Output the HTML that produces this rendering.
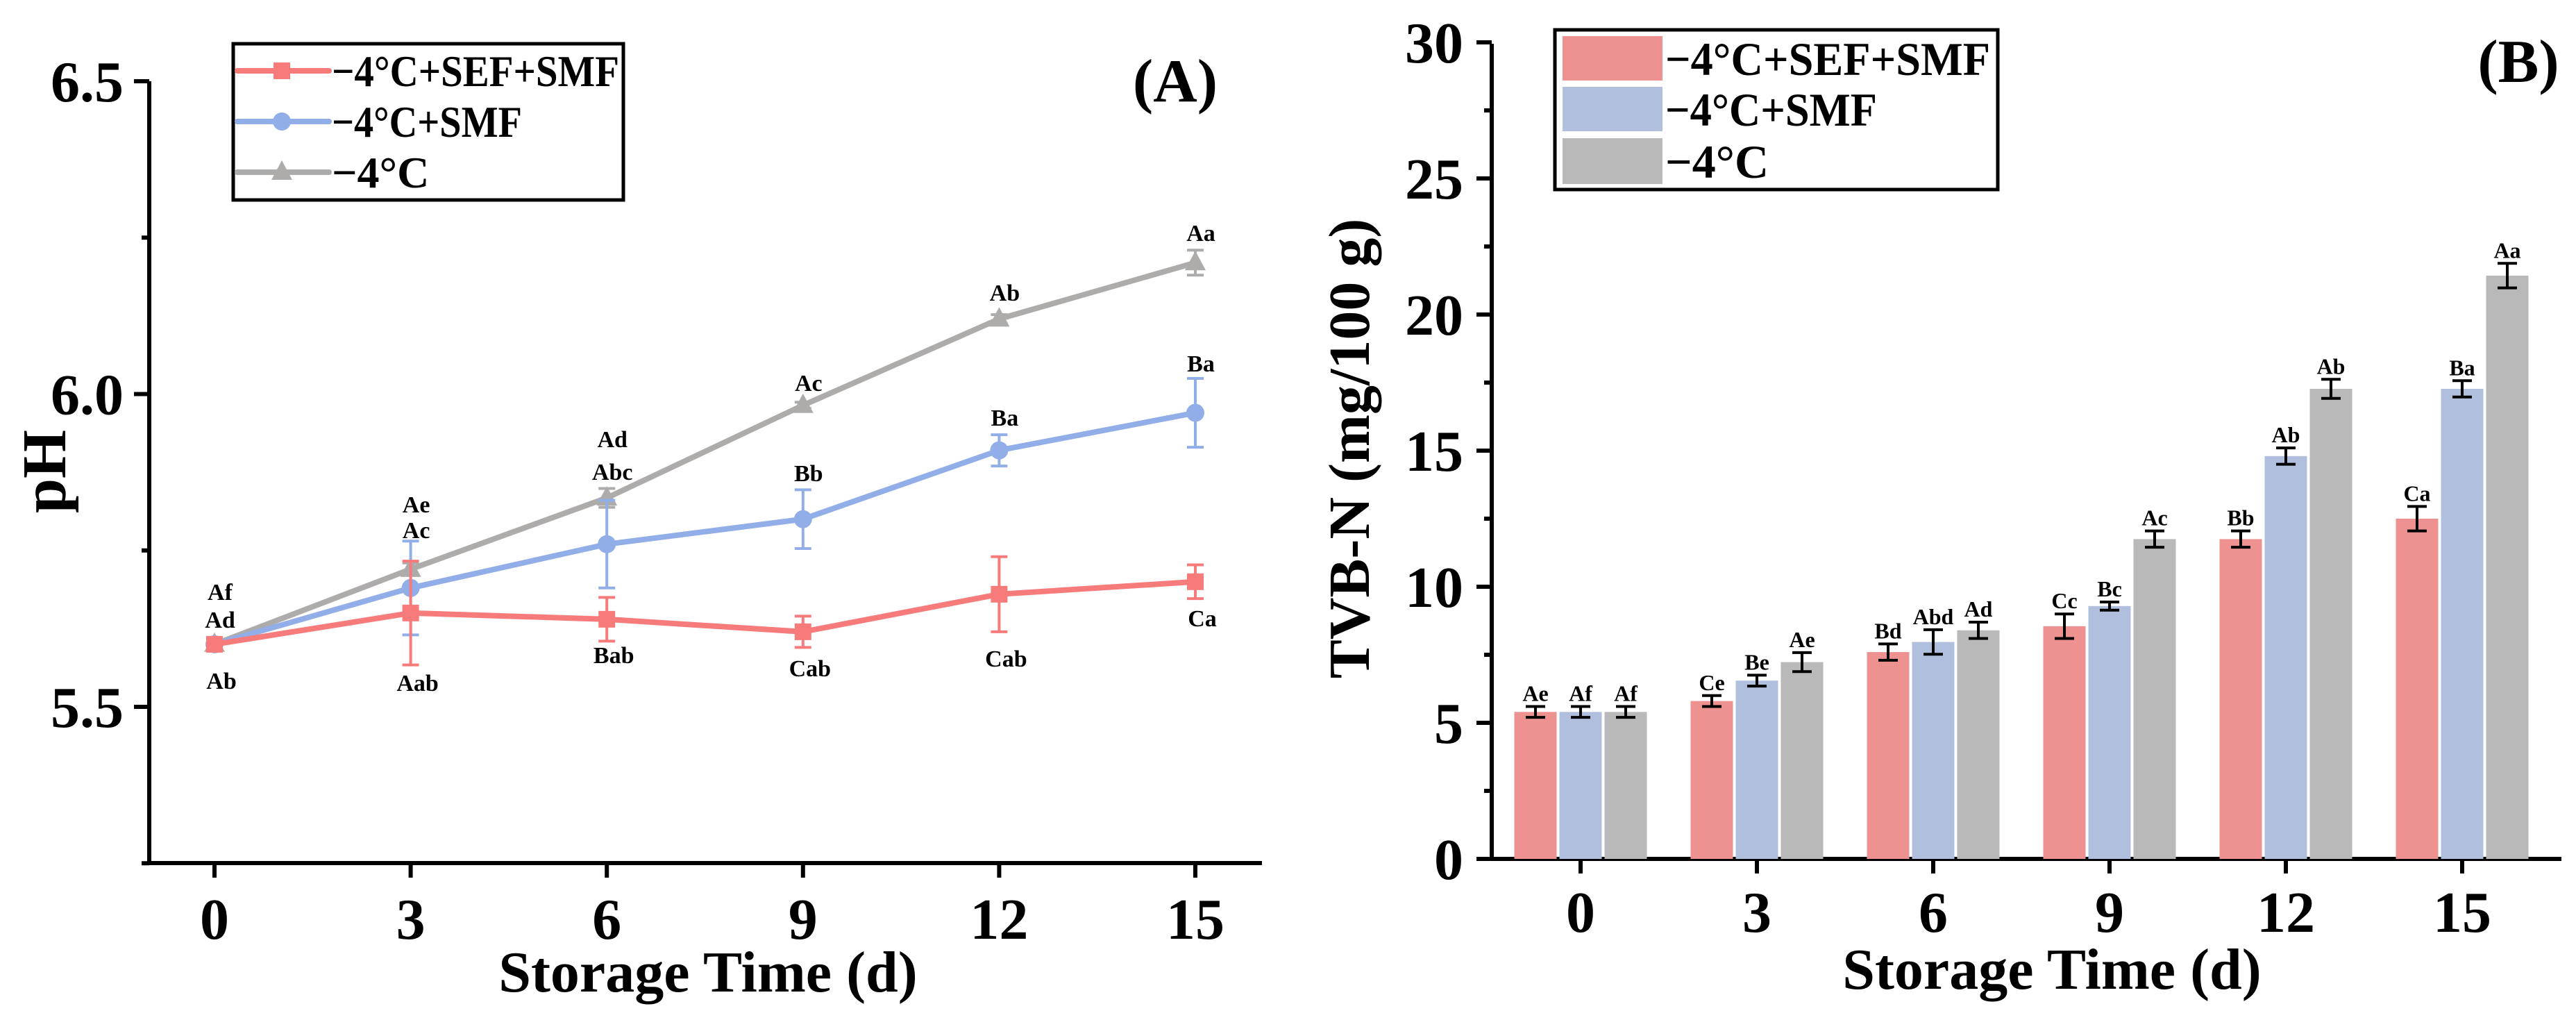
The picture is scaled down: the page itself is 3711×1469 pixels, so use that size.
<!DOCTYPE html>
<html><head><meta charset="utf-8"><style>
html,body{margin:0;padding:0;background:#fff;}
svg{display:block;font-family:"Liberation Serif",serif;font-weight:bold;}
</style></head><body>
<svg id="fig" width="3711" height="1469" viewBox="0 0 3711 1469" xmlns="http://www.w3.org/2000/svg">
<g id="chartA"></g>
<g id="chartB"></g>
</svg>
<script>
const days = [0, 3, 6, 9, 12, 15];
const seriesNames = ["\u22124\u00b0C+SEF+SMF", "\u22124\u00b0C+SMF", "\u22124\u00b0C"];
// Chart A (pH)
const phSef = [5.60, 5.65, 5.64, 5.62, 5.68, 5.70];
const phSefErr = [0.01, 0.083, 0.035, 0.025, 0.06, 0.027];
const phSmf = [5.60, 5.69, 5.76, 5.80, 5.91, 5.97];
const phSmfErr = [0.01, 0.075, 0.07, 0.047, 0.025, 0.055];
const phCtl = [5.60, 5.72, 5.834, 5.982, 6.12, 6.21];
const phCtlErr = [0.01, 0.01, 0.015, 0.005, 0.007, 0.02];
const phLabelsTop = [["Af","Ad"],["Ae","Ac"],["Ad","Abc"],["Ac","Bb"],["Ab","Ba"],["Aa","Ba"]];
const phLabelsBottom = ["Ab","Aab","Bab","Cab","Cab","Ca"];
const phTicks = [5.5, 6.0, 6.5];
const phTickLabels = ["5.5", "6.0", "6.5"];
// Chart B (TVB-N)
const tvbSef = [5.4, 5.8, 7.6, 8.55, 11.75, 12.5];
const tvbSefErr = [0.2, 0.2, 0.3, 0.45, 0.3, 0.45];
const tvbSmf = [5.4, 6.55, 7.97, 9.29, 14.8, 17.27];
const tvbSmfErr = [0.2, 0.2, 0.45, 0.15, 0.3, 0.3];
const tvbCtl = [5.4, 7.23, 8.4, 11.75, 17.27, 21.43];
const tvbCtlErr = [0.2, 0.35, 0.3, 0.3, 0.35, 0.45];
const tvbLabels = [["Ae","Af","Af"],["Ce","Be","Ae"],["Bd","Abd","Ad"],["Cc","Bc","Ac"],["Bb","Ab","Ab"],["Ca","Ba","Aa"]];
const tvbTicks = [0, 5, 10, 15, 20, 25, 30];

const NS = "http://www.w3.org/2000/svg";
function mk(parent, tag, attrs, text) {
  const e = document.createElementNS(NS, tag);
  for (const k in attrs) e.setAttribute(k, attrs[k]);
  if (text !== undefined) e.textContent = text;
  parent.appendChild(e);
  return e;
}

// ---------- Chart A ----------
const A = document.getElementById("chartA");
const ax = d => 309 + d * (1722 - 309) / 15;
const ay = v => 1018 - (v - 5.5) * 901;
// axes
let el = mk(A, "path", {d: "M215 117 V1243 H1818", stroke: "#000", "stroke-width": 6, fill: "none"});


[5.5, 6.0, 6.5].forEach((v, i) => {
  const t = mk(A, "line", {x1: 193, x2: 215, y1: ay(v), y2: ay(v), stroke: "#000", "stroke-width": 6});
  
  
  const l = mk(A, "text", {x: 178, y: ay(v) + 29, "text-anchor": "end", "font-size": 84}, phTickLabels[i]);
  
  
});
[5.25, 5.75, 6.25].forEach(v => {
  const t = mk(A, "line", {x1: 204, x2: 215, y1: ay(v), y2: ay(v), stroke: "#000", "stroke-width": 6});
  
  
});
days.forEach(d => {
  const t = mk(A, "line", {x1: ax(d), x2: ax(d), y1: 1243, y2: 1264, stroke: "#000", "stroke-width": 6});
  
  
  const l = mk(A, "text", {x: ax(d), y: 1352, "text-anchor": "middle", "font-size": 84}, String(d));
  
  
});
el = mk(A, "text", {x: 1020, y: 1428, "text-anchor": "middle", "font-size": 84}, "Storage Time (d)");


el = mk(A, "text", {x: 0, y: 0, "text-anchor": "middle", "font-size": 90, transform: "translate(94 679) rotate(-90)"}, "pH");


el = mk(A, "text", {x: 1693, y: 146, "text-anchor": "middle", "font-size": 88}, "(A)");



const aSeries = [
  {v: phSef, e: phSefErr, c: "#f77b7b", m: "square", n: "sef-smf"},
  {v: phSmf, e: phSmfErr, c: "#92aee8", m: "circle", n: "smf"},
  {v: phCtl, e: phCtlErr, c: "#aeabab", m: "triangle", n: "control"}
];
function marker(g, type, x, y, c) {
  let m;
  if (type === "square") m = mk(g, "rect", {x: x - 12, y: y - 12, width: 24, height: 24, fill: c});
  else if (type === "circle") m = mk(g, "circle", {cx: x, cy: y, r: 13, fill: c});
  else m = mk(g, "polygon", {points: `${x},${y-17} ${x+15},${y+11} ${x-15},${y+11}`, fill: c});
  return m;
}
[2, 1, 0].forEach(si => {
  const s = aSeries[si];
  const g = mk(A, "g", {});
  
  
  const pts = days.map((d, i) => ax(d) + "," + ay(s.v[i])).join(" ");
  const line = mk(g, "polyline", {points: pts, fill: "none", stroke: s.c, "stroke-width": 8, "stroke-linejoin": "round"});
  
  
  days.forEach((d, i) => {
    const x = ax(d), y1 = ay(s.v[i] + s.e[i]), y2 = ay(s.v[i] - s.e[i]);
    const eb = mk(g, "path", {d: `M${x} ${y1} V${y2} M${x-12} ${y1} H${x+12} M${x-12} ${y2} H${x+12}`, stroke: s.c, "stroke-width": 4, fill: "none"});
    
    
    const m = marker(g, s.m, x, ay(s.v[i]), s.c);
    
    
  });
});
// sig labels A
const topY = [[852, 892],[726, 763],[632, 679],[551, 681],[421, 601],[335, 523]];
const botY = [980, 983, 943, 962, 948, 890];
days.forEach((d, i) => {
  phLabelsTop[i].forEach((t, j) => {
    const l = mk(A, "text", {x: ax(d) + 8, y: topY[i][j] + 12, "text-anchor": "middle", "font-size": 34}, t);
    
    
  });
  const l = mk(A, "text", {x: ax(d) + 10, y: botY[i] + 12, "text-anchor": "middle", "font-size": 34}, phLabelsBottom[i]);
  
  
});
// legend A
const legA = mk(A, "g", {});


el = mk(legA, "rect", {x: 336, y: 63, width: 562, height: 225, fill: "none", stroke: "#000", "stroke-width": 5});


[102, 175, 248].forEach((y, i) => {
  const s = aSeries[i];
  const ent = mk(legA, "g", {});
  
  
  mk(ent, "line", {x1: 342, x2: 474, y1: y, y2: y, stroke: s.c, "stroke-width": 8, "stroke-linecap": "round"});
  marker(ent, s.m, 406, y, s.c);
  const attrs = {x: 478, y: y + 22, "font-size": 64};
  if (i < 2) { attrs.textLength = i === 0 ? 414 : 274; attrs.lengthAdjust = "spacingAndGlyphs"; }
  mk(ent, "text", attrs, seriesNames[i]);
});

// ---------- Chart B ----------
const B = document.getElementById("chartB");
const bx = d => 2277 + d * (3547 - 2277) / 15;
const by = v => 1237 - v * 39.2;
const bw = 61, bstep = 65;
el = mk(B, "path", {d: "M2149 63 V1237 M2127 1237 H3690", stroke: "#000", "stroke-width": 6, fill: "none"});


tvbTicks.forEach(v => {
  const t = mk(B, "line", {x1: 2127, x2: 2149, y1: by(v), y2: by(v), stroke: "#000", "stroke-width": 6});
  
  
  const l = mk(B, "text", {x: 2108, y: by(v) + 29, "text-anchor": "end", "font-size": 84}, String(v));
  
  
  if (v < 30) {
    const mt = mk(B, "line", {x1: 2138, x2: 2149, y1: by(v + 2.5), y2: by(v + 2.5), stroke: "#000", "stroke-width": 6});
    
    
  }
});
const bSeries = [
  {v: tvbSef, e: tvbSefErr, c: "#ee9291", n: "sef-smf"},
  {v: tvbSmf, e: tvbSmfErr, c: "#b0bfdd", n: "smf"},
  {v: tvbCtl, e: tvbCtlErr, c: "#b9b9b9", n: "control"}
];
bSeries.forEach((s, si) => {
  const g = mk(B, "g", {});
  
  
  days.forEach((d, i) => {
    const cx = bx(d) + (si - 1) * bstep;
    const r = mk(g, "rect", {x: cx - bw / 2, y: by(s.v[i]), width: bw, height: by(0) - by(s.v[i]), fill: s.c});
    
    
    const y1 = by(s.v[i] + s.e[i]), y2 = by(s.v[i] - s.e[i]);
    const eb = mk(g, "path", {d: `M${cx} ${y1} V${y2} M${cx-14} ${y1} H${cx+14} M${cx-14} ${y2} H${cx+14}`, stroke: "#000", "stroke-width": 4, fill: "none"});
    
    
    const l = mk(g, "text", {x: cx, y: y1 - 8, "text-anchor": "middle", "font-size": 32}, tvbLabels[i][si]);
    
    
  });
});
days.forEach(d => {
  const t = mk(B, "line", {x1: bx(d), x2: bx(d), y1: 1237, y2: 1258, stroke: "#000", "stroke-width": 6});
  
  
  const l = mk(B, "text", {x: bx(d), y: 1342, "text-anchor": "middle", "font-size": 84}, String(d));
  
  
});
el = mk(B, "text", {x: 2956, y: 1424, "text-anchor": "middle", "font-size": 84}, "Storage Time (d)");


el = mk(B, "text", {x: 0, y: 0, "text-anchor": "middle", "font-size": 84, transform: "translate(1972 646) rotate(-90)"}, "TVB-N (mg/100 g)");


el = mk(B, "text", {x: 3628, y: 118, "text-anchor": "middle", "font-size": 88}, "(B)");


const legB = mk(B, "g", {});


el = mk(legB, "rect", {x: 2240, y: 43, width: 638, height: 230, fill: "none", stroke: "#000", "stroke-width": 5});


[[52, 116], [125, 189], [199, 265]].forEach((yy, i) => {
  const ent = mk(legB, "g", {});
  
  
  mk(ent, "rect", {x: 2251, y: yy[0], width: 144, height: yy[1] - yy[0], fill: bSeries[i].c});
  const attrs = {x: 2399, y: (yy[0] + yy[1]) / 2 + 24, "font-size": 68};
  if (i < 2) { attrs.textLength = i === 0 ? 468 : 305; attrs.lengthAdjust = "spacingAndGlyphs"; }
  mk(ent, "text", attrs, seriesNames[i]);
});
</script>
</body></html>
